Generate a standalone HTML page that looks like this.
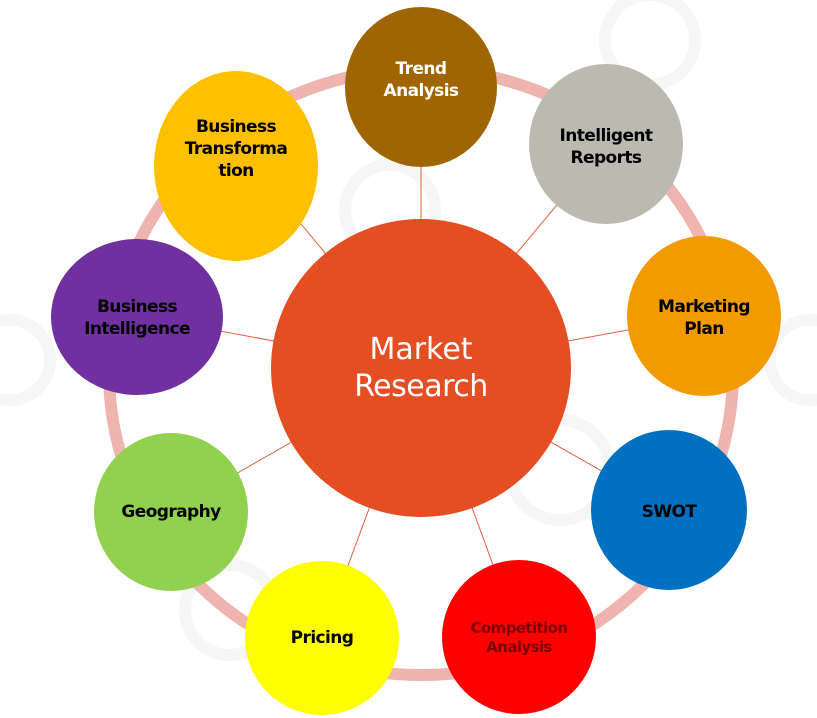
<!DOCTYPE html>
<html><head><meta charset="utf-8"><style>
html,body{margin:0;padding:0;background:#fff}
svg{display:block}
text{font-family:"DejaVu Sans","Liberation Sans",sans-serif;font-weight:bold;font-size:17px;letter-spacing:-0.6px;text-anchor:middle}
</style></head><body>
<svg width="817" height="718" viewBox="0 0 817 718">
<g fill="none" stroke="#f6f6f6" stroke-width="12">
<circle cx="420" cy="60" r="40"/>
<circle cx="650" cy="40" r="45"/>
<circle cx="390" cy="210" r="45"/>
<circle cx="10" cy="360" r="40"/>
<circle cx="810" cy="360" r="40"/>
<circle cx="560" cy="470" r="50"/>
<circle cx="230" cy="610" r="45"/>
</g>
<ellipse cx="421" cy="372" rx="312" ry="303" fill="none" stroke="#f0b4ae" stroke-width="12"/>
<g stroke="#e2603f" stroke-width="1">
<line x1="421" y1="368" x2="421" y2="78"/>
<line x1="421" y1="368" x2="606" y2="146"/>
<line x1="421" y1="368" x2="704" y2="316"/>
<line x1="421" y1="368" x2="670" y2="510"/>
<line x1="421" y1="368" x2="519" y2="636"/>
<line x1="421" y1="368" x2="322" y2="636"/>
<line x1="421" y1="368" x2="171" y2="511"/>
<line x1="421" y1="368" x2="138" y2="316"/>
<line x1="421" y1="368" x2="236" y2="146"/>
</g>
<ellipse cx="421" cy="368" rx="150" ry="149" fill="#e44e23"/>
<text x="421" y="359" fill="#fff" style="font-weight:normal;font-size:30px;letter-spacing:0;font-family:'DejaVu Sans','Liberation Sans',sans-serif">Market</text>
<text x="421" y="396" fill="#fff" style="font-weight:normal;font-size:30px;letter-spacing:-0.5px;font-family:'DejaVu Sans','Liberation Sans',sans-serif">Research</text>

<ellipse cx="421" cy="87" rx="76" ry="80" fill="#9f6500"/>
<text x="421" y="74" fill="#fff">Trend</text><text x="421" y="96" fill="#fff">Analysis</text>

<ellipse cx="606" cy="144" rx="77" ry="80" fill="#bbbab0"/>
<text x="606" y="141" fill="#000">Intelligent</text><text x="606" y="163" fill="#000">Reports</text>

<ellipse cx="704" cy="316" rx="77" ry="80" fill="#f29b00"/>
<text x="704" y="312" fill="#000">Marketing</text><text x="704" y="334" fill="#000">Plan</text>

<ellipse cx="669" cy="510" rx="78" ry="80" fill="#0070c0"/>
<text x="669" y="517" fill="#000">SWOT</text>

<ellipse cx="519" cy="637" rx="77" ry="77" fill="#fe0000"/>
<text x="519" y="633" fill="#7a0000" style="font-size:15px">Competition</text><text x="519" y="652" fill="#7a0000" style="font-size:15px">Analysis</text>

<ellipse cx="322" cy="638" rx="77" ry="77" fill="#ffff00"/>
<text x="322" y="643" fill="#000">Pricing</text>

<ellipse cx="171" cy="512" rx="77" ry="79" fill="#92d050"/>
<text x="171" y="517" fill="#000">Geography</text>

<ellipse cx="137" cy="317" rx="86" ry="78" fill="#7030a0"/>
<text x="137" y="312" fill="#000">Business</text><text x="137" y="334" fill="#000">Intelligence</text>

<ellipse cx="236" cy="166" rx="82" ry="95" fill="#ffc000"/>
<text x="236" y="132" fill="#000">Business</text><text x="236" y="154" fill="#000">Transforma</text><text x="236" y="176" fill="#000">tion</text>
</svg>
</body></html>
